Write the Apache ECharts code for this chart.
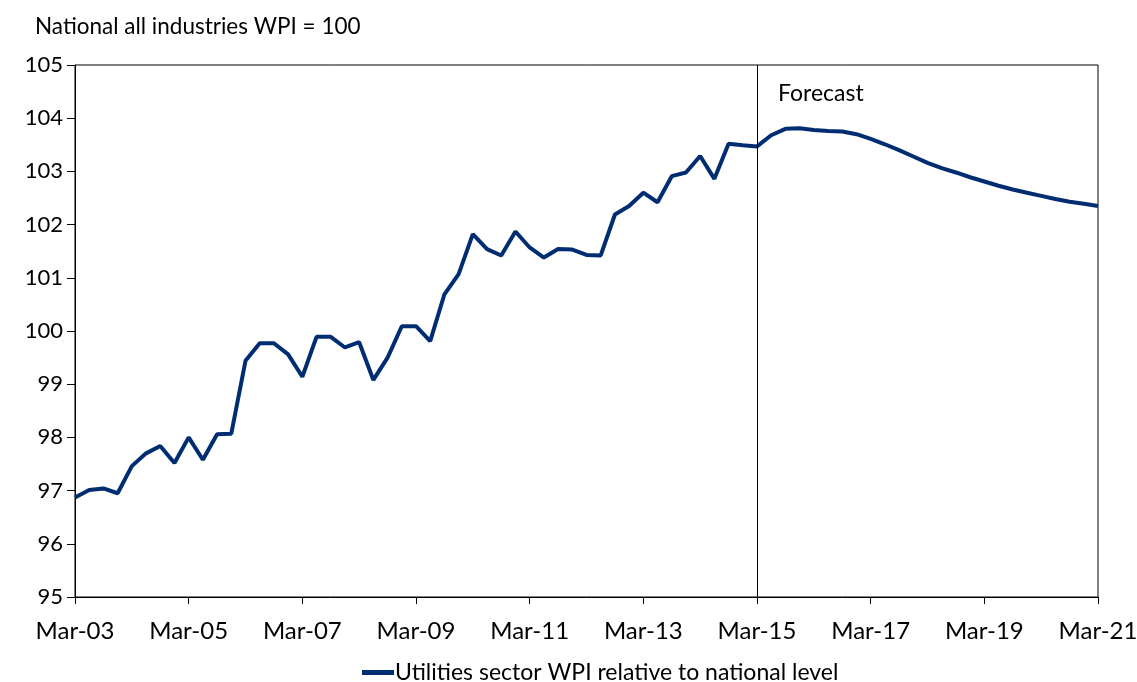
<!DOCTYPE html>
<html>
<head>
<meta charset="utf-8">
<script src="https://cdn.jsdelivr.net/npm/echarts@6/dist/echarts.min.js"></script>
<style>
  html, body { margin: 0; padding: 0; background: #fff; }
  #chart { width: 1137px; height: 682px; }
</style>
</head>
<body>
<div id="chart"></div>
<script>
// quarters Mar-03 .. Mar-21
var years = ['03','04','05','06','07','08','09','10','11','12','13','14','15','16','17','18','19','20','21'];
var months = ['Mar', 'Jun', 'Sep', 'Dec'];

// utilities sector WPI relative to national level (national = 100)
var wpiValues = [
    96.87, 97.01, 97.04, 96.95, 97.46, 97.70, 97.84, 97.52,
    98.00, 97.58, 98.06, 98.07, 99.44, 99.77, 99.77, 99.56,
    99.14, 99.89, 99.89, 99.69, 99.79, 99.08, 99.50, 100.09,
    100.09, 99.81, 100.69, 101.07, 101.82, 101.54, 101.42, 101.87,
    101.57, 101.38, 101.54, 101.53, 101.43, 101.42, 102.19, 102.35,
    102.60, 102.42, 102.91, 102.98, 103.29, 102.86, 103.52, 103.49,
    103.47, 103.68, 103.80, 103.81, 103.78, 103.76, 103.75, 103.70,
    103.61, 103.51, 103.40, 103.28, 103.16, 103.06, 102.98, 102.89,
    102.81, 102.73, 102.66, 102.60, 102.54, 102.48, 102.43, 102.39,
    102.35
];

var seriesName = 'Utilities sector WPI relative to national level';
var forecastStart = 'Mar-15';
var yTitle = 'National all industries WPI = 100';

var categories = [];
for (var i = 0; i < years.length; i++) {
    for (var j = 0; j < months.length; j++) {
        if (i == years.length - 1 && j > 0) break;
        categories.push(months[j] + '-' + years[i]);
    }
}

var font = 'Lato';
var chart = echarts.init(document.getElementById('chart'));
var option = {
    animation: false,
    textStyle: { fontFamily: font },
    grid: {
        left: 75,
        right: 39,
        top: 65,
        bottom: 85,
        outerBoundsMode: 'none',
        show: true,
        borderColor: '#000',
        borderWidth: 1
    },
    graphic: [{
        type: 'text',
        left: 35,
        top: 15,
        style: { text: yTitle, fontSize: 22.5, fontFamily: font, fill: '#000' }
    }],
    legend: {
        top: 661,
        left: 362,
        padding: 0,
        icon: 'rect',
        itemWidth: 32,
        itemHeight: 5,
        itemGap: 4,
        textStyle: { fontSize: 23, color: '#000', fontFamily: font, padding: [0, 0, 0, -4] },
        data: [seriesName]
    },
    xAxis: {
        type: 'category',
        boundaryGap: false,
        data: categories,
        axisLine: { lineStyle: { color: '#000', width: 1 } },
        axisTick: { show: true, interval: 7, length: 7, lineStyle: { color: '#000' } },
        axisLabel: { interval: 7, fontSize: 24, color: '#000', margin: 22, fontFamily: font }
    },
    yAxis: {
        type: 'value',
        min: 95,
        max: 105,
        interval: 1,
        axisLine: { show: true, lineStyle: { color: '#000', width: 1 } },
        axisTick: { show: true, length: 8, lineStyle: { color: '#000' } },
        axisLabel: { fontSize: 22, color: '#000', margin: 12, fontFamily: font },
        splitLine: { show: false }
    },
    series: [{
        name: seriesName,
        type: 'line',
        data: wpiValues,
        symbol: 'none',
        lineStyle: { color: '#002D72', width: 4 },
        itemStyle: { color: '#002D72' },
        markLine: {
            silent: true,
            symbol: 'none',
            label: { show: false },
            lineStyle: { color: '#000', width: 1, type: 'solid' },
            data: [{ xAxis: forecastStart }]
        },
        markPoint: {
            silent: true,
            symbol: 'rect',
            symbolSize: 0,
            label: {
                show: true,
                position: 'right',
                distance: 21,
                formatter: 'Forecast',
                fontSize: 23,
                color: '#000',
                fontFamily: font
            },
            data: [{ coord: [forecastStart, 104.47] }]
        }
    }]
};
chart.setOption(option);
</script>
</body>
</html>
